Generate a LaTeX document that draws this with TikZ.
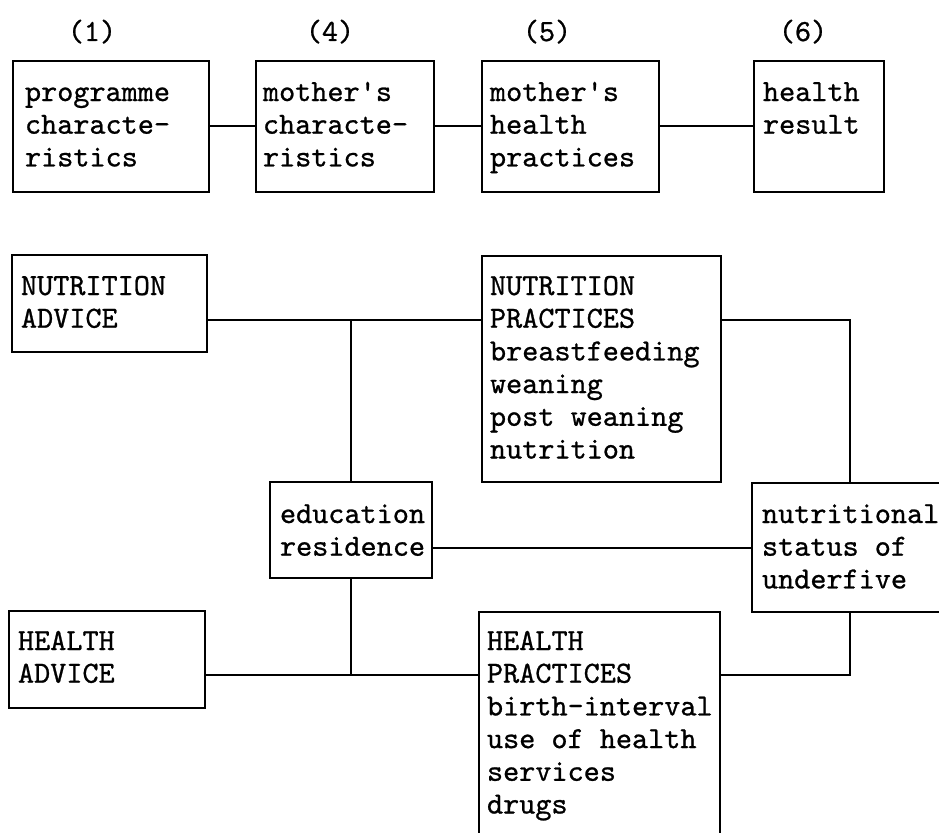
\documentclass[tikz,border=0pt]{standalone}
\usepackage{fontspec}
\newfontfamily\tw[FakeBold=0.8]{lmmono10-regular.otf}
\newlength\lnx
\newcommand\BX[5]{\vbox to #2{\hsize=#1\relax\setlength\lnx{#3}\baselineskip=32.7pt\lineskiplimit=-100pt\relax\vskip #4\relax #5\vss}}
\newcommand\LN[1]{\hbox to \hsize{\hskip\lnx\vrule width 0pt height 24pt depth 0pt\relax #1\hfil}}
\tikzset{
  bx/.style={draw, line width=2pt, inner sep=0pt, outer sep=0pt, anchor=north west,
    font=\fontsize{30.7}{32.7}\selectfont\tw},
  lab/.style={inner sep=0pt, anchor=base, font=\fontsize{30.7}{32.7}\selectfont\tw},
  ln/.style={line width=2pt}
}
\begin{document}
\begin{tikzpicture}[x=1pt,y=-1pt]
\clip (0,0) rectangle (939,832);
\fill[white] (0,0) rectangle (939,832);
% top row labels
\node[lab] (l1) at (92,41) {(1)};
\node[lab] (l4) at (330,41) {(4)};
\node[lab] (l5) at (547,41) {(5)};
\node[lab] (l6) at (803,41) {(6)};
% top row boxes
\node[bx] (b1) at (13,61) {\BX{196pt}{131pt}{12pt}{16pt}{\LN{programme}\LN{characte-}\LN{ristics}}};
\node[bx] (b4) at (256,61) {\BX{178pt}{131pt}{7pt}{16pt}{\LN{mother's}\LN{characte-}\LN{ristics}}};
\node[bx] (b5) at (482,61) {\BX{177pt}{131pt}{8pt}{16pt}{\LN{mother's}\LN{health}\LN{practices}}};
\node[bx] (b6) at (754,61) {\BX{130pt}{131pt}{9pt}{16pt}{\LN{health}\LN{result}}};
\draw[ln] (b1.east) -- (b4.west);
\draw[ln] (b4.east) -- (b5.west);
\draw[ln] (b5.east) -- (b6.west);
% bottom part
\node[bx] (na) at (12,255) {\BX{195pt}{97pt}{9pt}{16pt}{\LN{NUTRITION}\LN{ADVICE}}};
\node[bx] (np) at (482,256) {\BX{239pt}{226pt}{8pt}{15pt}{\LN{NUTRITION}\LN{PRACTICES}\LN{breastfeeding}\LN{weaning}\LN{post weaning}\LN{nutrition}}};
\node[bx] (ed) at (270,482) {\BX{162pt}{96pt}{10pt}{17pt}{\LN{education}\LN{residence}}};
\node[bx] (ns) at (752,483) {\BX{200pt}{129pt}{10pt}{16pt}{\LN{nutritional}\LN{status of}\LN{underfive}}};
\node[bx] (ha) at (9,611) {\BX{196pt}{97pt}{9pt}{15pt}{\LN{HEALTH}\LN{ADVICE}}};
\node[bx] (hp) at (479,612) {\BX{241pt}{250pt}{8pt}{14pt}{\LN{HEALTH}\LN{PRACTICES}\LN{birth-interval}\LN{use of health}\LN{services}\LN{drugs}}};
% junctions
\coordinate (j1) at (ed.north |- 0,320);
\coordinate (j2) at (ed.south |- 0,675);
\coordinate (c1) at (850,320);
\coordinate (c2) at (850,675);
\draw[ln] (na.east |- j1) -- (np.west |- j1);
\draw[ln] (j1) -- (ed.north);
\draw[ln] (np.east |- c1) -- (c1) -- (ns.north -| c1);
\draw[ln] (ed.east |- ns.west) -- (ns.west);
\draw[ln] (ed.south) -- (j2);
\draw[ln] (ha.east |- j2) -- (hp.west |- j2);
\draw[ln] (hp.east |- c2) -- (c2) -- (ns.south -| c2);
\end{tikzpicture}
\end{document}
